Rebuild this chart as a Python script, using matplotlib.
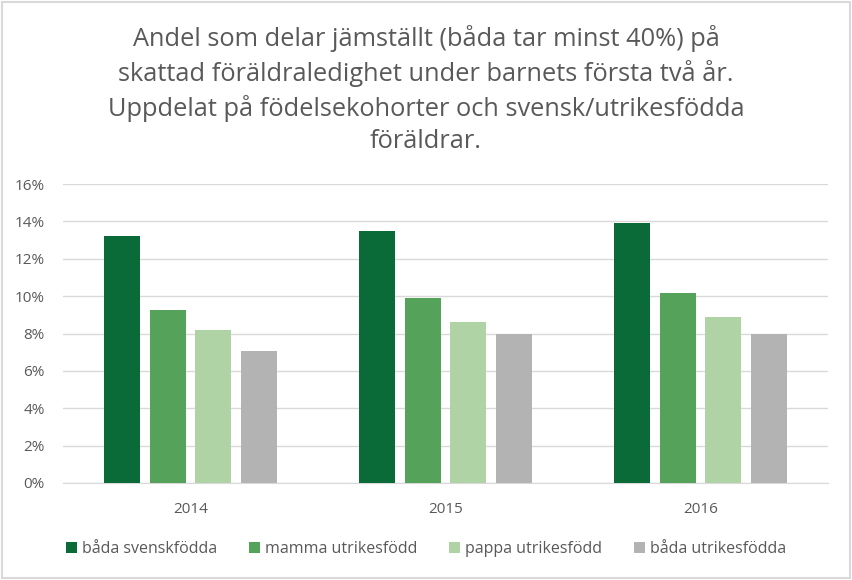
import matplotlib.pyplot as plt
import numpy as np
from matplotlib.patches import Rectangle
from matplotlib.ticker import PercentFormatter

years = ["2014", "2015", "2016"]
series_names = ["båda svenskfödda", "mamma utrikesfödd", "pappa utrikesfödd", "båda utrikesfödda"]
bada_svenskfodda = [13.2, 13.5, 13.9]
mamma_utrikesfodd = [9.25, 9.9, 10.15]
pappa_utrikesfodd = [8.2, 8.6, 8.9]
bada_utrikesfodda = [7.05, 8.0, 8.0]
colors = ["#0A6B38", "#55A25A", "#B0D3A6", "#B3B3B3"]

title = ("Andel som delar jämställt (båda tar minst 40%) på\n"
         "skattad föräldraledighet under barnets första två år.\n"
         "Uppdelat på födelsekohorter och svensk/utrikesfödda\n"
         "föräldrar.")

plt.rcParams['font.family'] = ['Open Sans', 'DejaVu Sans']
text_color = "#595959"

fig = plt.figure(figsize=(8.52, 5.8), dpi=100)
ax = fig.add_axes([63 / 852, 1 - 483 / 580, (828 - 63) / 852, (483 - 184) / 580])

values = [bada_svenskfodda, mamma_utrikesfodd, pappa_utrikesfodd, bada_utrikesfodda]
x = np.arange(len(years))
slot = 0.18
width = 0.141
for i, (name, vals) in enumerate(zip(series_names, values)):
    ax.bar(x + (i - 1.5) * slot, vals, width=width, color=colors[i], label=name, zorder=3)

ax.set_xlim(-0.5, 2.5)
ax.set_ylim(0, 16)
ax.set_yticks(range(0, 17, 2))
ax.yaxis.set_major_formatter(PercentFormatter(decimals=0))
ax.set_xticks(x)
ax.set_xticklabels(years)
ax.grid(axis='y', color="#D9D9D9", linewidth=1, zorder=0)
for s in ['top', 'right', 'left']:
    ax.spines[s].set_visible(False)
ax.spines['bottom'].set_color("#D9D9D9")
ax.tick_params(axis='both', length=0, labelsize=11, colors=text_color)
ax.tick_params(axis='x', pad=14)
ax.tick_params(axis='y', pad=13)

fig.text(0.5, 0.957, title, ha='center', va='top', fontsize=18.3,
         color=text_color, linespacing=1.38)

fig.legend(loc='center', bbox_to_anchor=(0.5, 1 - 549 / 580), ncol=4, frameon=False,
           fontsize=11.5, labelcolor=text_color, handlelength=0.7, handleheight=0.7,
           handletextpad=0.3, columnspacing=2.0)

fig.patches.append(Rectangle((0.002, 0.003), 0.996, 0.994, transform=fig.transFigure,
                             fill=False, edgecolor="#D9D9D9", linewidth=1.5))

fig.savefig("out.png", dpi=100)
